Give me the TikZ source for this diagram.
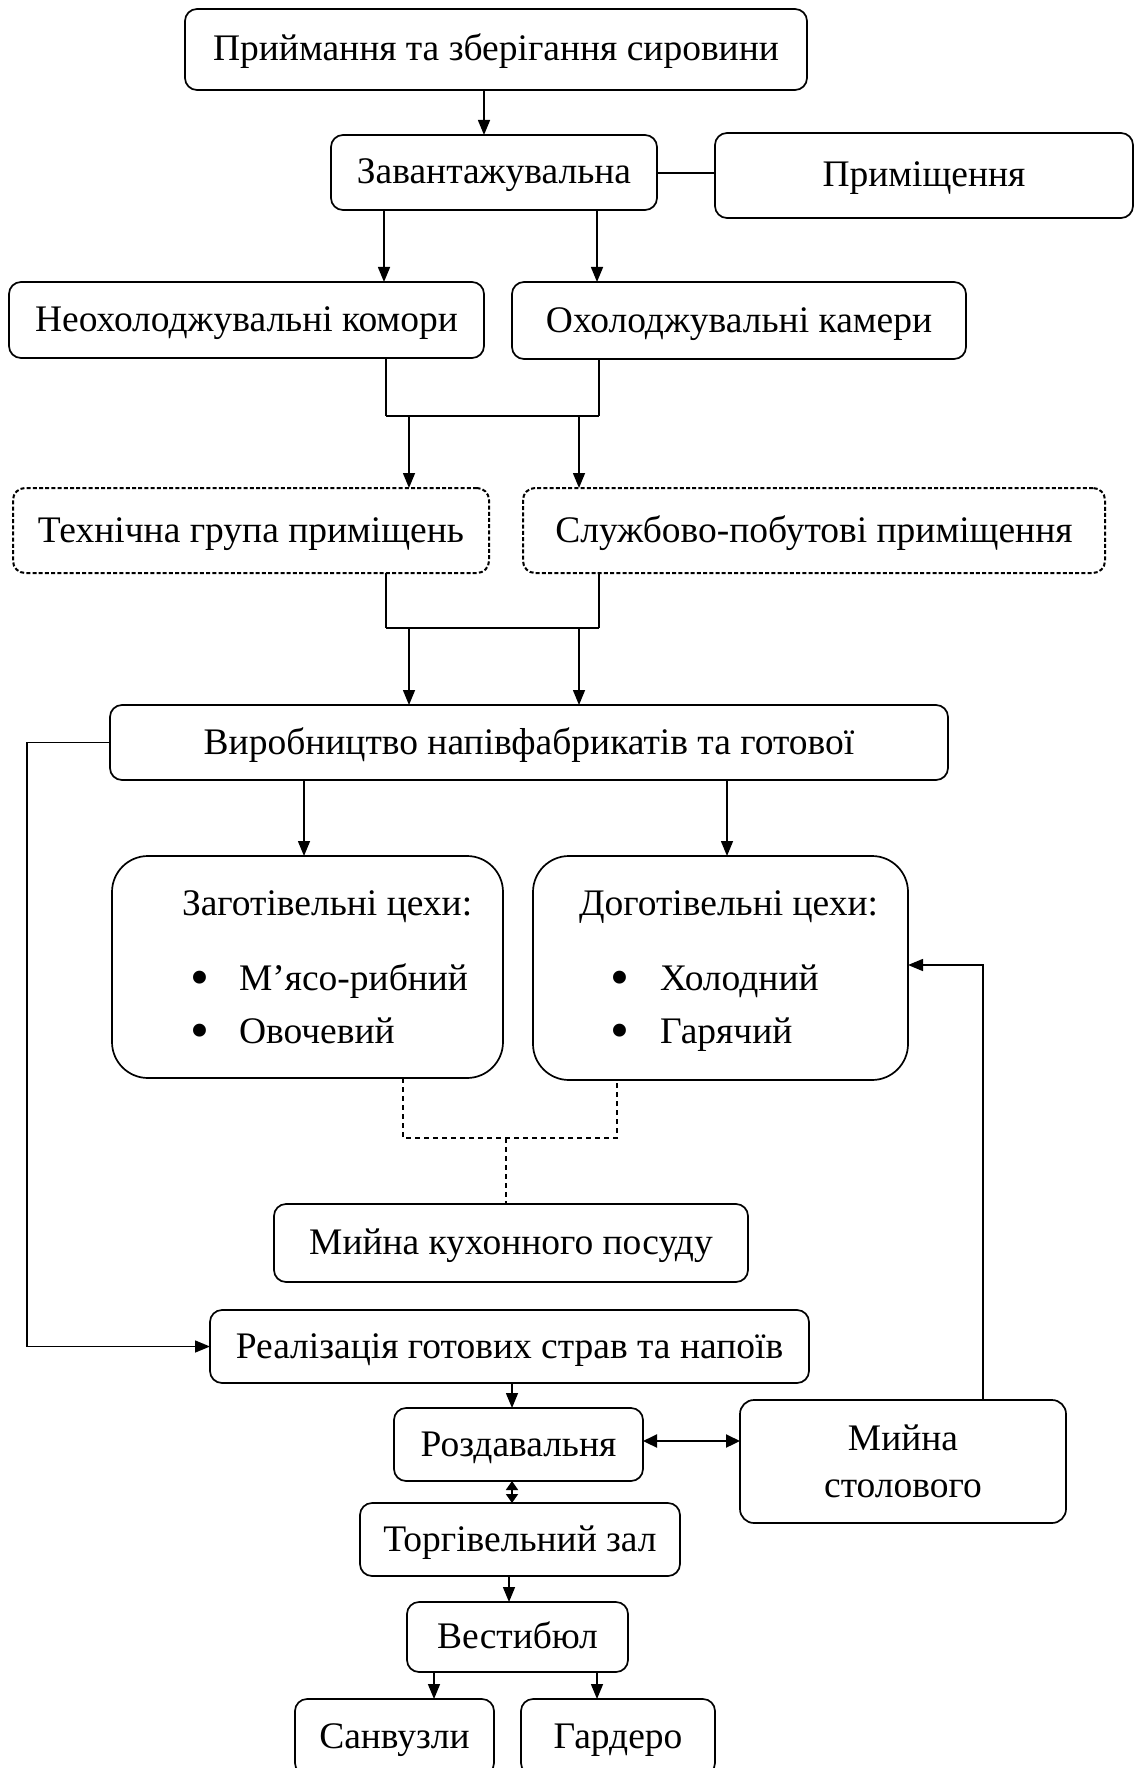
\documentclass[tikz,border=0pt]{standalone}
\usepackage{fontspec}
\setmainfont{Liberation Serif}
\usetikzlibrary{arrows.meta}
\begin{document}
\begin{tikzpicture}[x=1pt,y=-1pt,
  every node/.style={font=\fontsize{37.5}{47}\selectfont, inner sep=0pt, outer sep=0pt},
  box/.style={draw, rounded corners=12pt, line width=1.7pt, text height=27pt, text depth=4pt, align=center},
  dbox/.style={box, line width=2pt, dash pattern=on 4pt off 2.2pt},
  twobox/.style={draw, rounded corners=14pt, line width=1.7pt, align=center},
  bigbox/.style={draw, rounded corners=36pt, line width=1.7pt},
  bul/.style={anchor=base, font=\fontsize{54}{54}\selectfont},
  conn/.style={line width=1.5pt},
  arr/.style={conn, -{Triangle[length=15pt,width=12pt]}},
  darr/.style={line width=2.2pt, {Triangle[length=14pt,width=13pt]}-{Triangle[length=14pt,width=13pt]}},
  sdarr/.style={line width=1.8pt, {Triangle[length=9pt,width=12pt]}-{Triangle[length=9pt,width=12pt]}},
  dline/.style={line width=1.4pt, dash pattern=on 5pt off 4pt},
  bar/.style={line width=2.2pt},
]
\useasboundingbox (0,0) rectangle (1135,1768);
\fill[white] (0,0) rectangle (1135,1768);

% boxes
\node[box, minimum width=622pt, minimum height=81pt] (b1) at (496,49.5) {Приймання та зберігання сировини};
\node[box, minimum width=326pt, minimum height=75pt] (zav) at (494,172.5) {Завантажувальна};
\node[box, minimum width=418pt, minimum height=85pt] (prym) at (924,175.5) {Приміщення};
\node[box, minimum width=475pt, minimum height=76pt] (neo) at (246.5,320) {Неохолоджувальні комори};
\node[box, minimum width=454pt, minimum height=77pt] (oho) at (739,320.5) {Охолоджувальні камери};
\node[dbox, minimum width=476pt, minimum height=85pt] (tech) at (251,530.5) {Технічна група приміщень};
\node[dbox, minimum width=582pt, minimum height=85pt] (sluzh) at (814,530.5) {Службово-побутові приміщення};
\node[box, minimum width=838pt, minimum height=75pt] (vyr) at (529,742.5) {Виробництво напівфабрикатів та готової};
\node[bigbox, minimum width=391pt, minimum height=222pt] (zag) at (307.5,967) {};
\node[bigbox, minimum width=375pt, minimum height=224pt] (dog) at (720.5,968) {};
\node[box, minimum width=474pt, minimum height=78pt] (myk) at (511,1243) {Мийна кухонного посуду};
\node[box, minimum width=599pt, minimum height=73pt] (real) at (509.5,1346.5) {Реалізація готових страв та напоїв};
\node[box, minimum width=249pt, minimum height=73pt] (rozd) at (518.5,1444.5) {Роздавальня};
\node[twobox, minimum width=326pt, minimum height=123pt] (myst) at (903,1461.5) {Мийна\\столового};
\node[box, minimum width=320pt, minimum height=73pt] (torg) at (520,1539.5) {Торгівельний зал};
\node[box, minimum width=221pt, minimum height=70pt] (vest) at (517.5,1637) {Вестибюл};
\node[box, minimum width=199pt, minimum height=76pt] (san) at (394.5,1737) {Санвузли};
\node[box, minimum width=194pt, minimum height=76pt] (gard) at (618,1737) {Гардеро};

% texts inside big boxes
\node[anchor=base west] (zagh) at (182,915) {Заготівельні цехи:};
\node[bul] (zagb1) at (200,995) {•};
\node[anchor=base west] (zagt1) at (239,990) {М’ясо-рибний};
\node[bul] (zagb2) at (200,1048) {•};
\node[anchor=base west] (zagt2) at (239,1043) {Овочевий};
\node[anchor=base west] (dogh) at (579,915) {Доготівельні цехи:};
\node[bul] (dogb1) at (620,995) {•};
\node[anchor=base west] (dogt1) at (660,990) {Холодний};
\node[bul] (dogb2) at (620,1048) {•};
\node[anchor=base west] (dogt2) at (660,1043) {Гарячий};

% helper coordinates
\coordinate (k1) at (484,0);
\coordinate (k2) at (384,0);
\coordinate (k3) at (597,0);
\coordinate (k4) at (386,0);
\coordinate (k5) at (599,0);
\coordinate (k6) at (409,0);
\coordinate (k7) at (579,0);
\coordinate (k8) at (304,0);
\coordinate (k9) at (727,0);
\coordinate (k10) at (403,0);
\coordinate (k11) at (617,0);
\coordinate (k12) at (506,0);
\coordinate (k13) at (512,0);
\coordinate (k14) at (509,0);
\coordinate (k15) at (434,0);
\coordinate (k16) at (597,0);
\coordinate (k17) at (983,0);
\coordinate (k18) at (27,0);
\coordinate (j1) at (0,416);
\coordinate (j2) at (0,628);
\coordinate (j3) at (0,1138);
\coordinate (j5) at (0,965);
\coordinate (j6) at (0,1441);
\coordinate (j7) at (0,173);

% connectors
\draw[arr] (b1.south -| k1) -- (zav.north -| k1);
\draw[conn] (zav.east |- j7) -- (prym.west |- j7);
\draw[arr] (zav.south -| k2) -- (neo.north -| k2);
\draw[arr] (zav.south -| k3) -- (oho.north -| k3);

\draw[conn] (neo.south -| k4) -- (k4 |- j1);
\draw[conn] (oho.south -| k5) -- (k5 |- j1);
\draw[bar] (k4 |- j1) -- (k5 |- j1);
\draw[arr] (k6 |- j1) -- (tech.north -| k6);
\draw[arr] (k7 |- j1) -- (sluzh.north -| k7);

\draw[conn] (tech.south -| k4) -- (k4 |- j2);
\draw[conn] (sluzh.south -| k5) -- (k5 |- j2);
\draw[bar] (k4 |- j2) -- (k5 |- j2);
\draw[arr] (k6 |- j2) -- (vyr.north -| k6);
\draw[arr] (k7 |- j2) -- (vyr.north -| k7);

\draw[arr] (vyr.south -| k8) -- (zag.north -| k8);
\draw[arr] (vyr.south -| k9) -- (dog.north -| k9);

\draw[arr] (vyr.west) -- (vyr.west -| k18) -- (k18 |- real.west) -- (real.west);

\draw[dline] (zag.south -| k10) -- (k10 |- j3) -- (k11 |- j3) -- (dog.south -| k11);
\draw[dline] (k12 |- j3) -- (myk.north -| k12);

\draw[arr] (myst.north -| k17) -- (k17 |- j5) -- (dog.east |- j5);

\draw[arr] (real.south -| k13) -- (rozd.north -| k13);
\draw[darr] (rozd.east |- j6) -- (myst.west |- j6);
\draw[sdarr] (rozd.south -| k13) -- (torg.north -| k13);
\draw[arr] (torg.south -| k14) -- (vest.north -| k14);
\draw[arr] (vest.south -| k15) -- (san.north -| k15);
\draw[arr] (vest.south -| k16) -- (gard.north -| k16);
\end{tikzpicture}
\end{document}
